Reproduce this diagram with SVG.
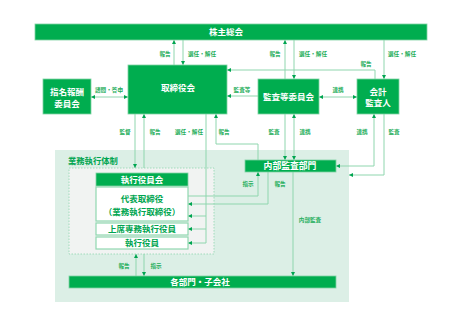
<svg xmlns="http://www.w3.org/2000/svg" width="456" height="325" viewBox="0 0 456 325">
<style>
.box{fill:#00ad4f;stroke:#7fd3a4;stroke-width:0.8}
.wbox{fill:#ffffff;stroke:#8fd8b0;stroke-width:1.2}
.t{font-family:"Noto Sans CJK JP","Noto Sans",sans-serif;font-weight:700;fill:#ffffff;font-size:8.5px;text-anchor:middle}
.g{fill:#00a550}
.lbl{font-family:"Noto Sans CJK JP","Noto Sans",sans-serif;font-weight:700;fill:#1fae5c;font-size:5.6px;text-anchor:middle}
.c{fill:none;stroke:#8fd6ae;stroke-width:1}
.a{marker-end:url(#ah)}
.d{marker-start:url(#ah);marker-end:url(#ah)}
</style>
<defs>
<marker id="ah" markerUnits="userSpaceOnUse" markerWidth="4" markerHeight="4" refX="4" refY="2" orient="auto-start-reverse">
<path d="M0,0 L4,2 L0,4 z" fill="#00a550"/>
</marker>
</defs>
<rect x="0" y="0" width="456" height="325" fill="#ffffff"/>
<g id="region">
<rect x="55" y="150" width="294" height="152" fill="#dcefe6"/>
<text class="lbl" x="68" y="164" style="font-size:8.3px;text-anchor:start;fill:#00a550">業務執行体制</text>
</g>
<g id="exec-frame">
<rect x="69" y="168" width="145" height="86" fill="#f1f3f2" stroke="#8fd6ae" stroke-width="0.8" stroke-dasharray="1.5,1.5"/>
</g>
<g id="connectors">
<path class="c a" d="M174,65 V40"/>
<path class="c a" d="M183,40 V65"/>
<path class="c d" d="M91,97 H128"/>
<path class="c a" d="M285,79 V40"/>
<path class="c a" d="M294,40 V79"/>
<path class="c a" d="M258,96 H227"/>
<path class="c d" d="M319,97 H357"/>
<path class="c a" d="M384,40 V79"/>
<path class="c a" d="M375,79 V70 H227"/>
<path class="c a" d="M135,114 V168"/>
<path class="c a" d="M144,168 V114"/>
<path class="c a" d="M206,114 V243 H188"/>
<path class="c a" d="M206,216 H188"/>
<path class="c a" d="M206,229 H188"/>
<path class="c a" d="M258,160 V144 H216 V114"/>
<path class="c a" d="M285,114 V160"/>
<path class="c d" d="M294,114 V160"/>
<path class="c d" d="M374,114 V166 H336"/>
<path class="c a" d="M384,114 V175 H349"/>
<path class="c a" d="M188,196 H258 V172"/>
<path class="c a" d="M268,172 V204 H188"/>
<path class="c a" d="M136,276 V254"/>
<path class="c a" d="M144,254 V276"/>
<path class="c a" d="M293,172 V276"/>
<text class="lbl" x="165" y="56">報告</text>
<text class="lbl" x="202" y="56">選任・解任</text>
<text class="lbl" x="109" y="92">諮問・答申</text>
<text class="lbl" x="275" y="56">報告</text>
<text class="lbl" x="313" y="56">選任・解任</text>
<text class="lbl" x="402" y="56">選任・解任</text>
<text class="lbl" x="366" y="66">報告</text>
<text class="lbl" x="242" y="92">監査等</text>
<text class="lbl" x="338" y="92">連携</text>
<text class="lbl" x="125" y="134">監督</text>
<text class="lbl" x="155" y="134">報告</text>
<text class="lbl" x="189" y="134">選任・解任</text>
<text class="lbl" x="224" y="134">報告</text>
<text class="lbl" x="274" y="134">監査</text>
<text class="lbl" x="305" y="134">連携</text>
<text class="lbl" x="362" y="134">連携</text>
<text class="lbl" x="394" y="134">監査</text>
<text class="lbl" x="248" y="186">指示</text>
<text class="lbl" x="280" y="186">報告</text>
<text class="lbl" x="310" y="222">内部監査</text>
<text class="lbl" x="124" y="268">報告</text>
<text class="lbl" x="156" y="268">指示</text>
</g>
<g id="shareholders">
<rect class="box" x="35" y="24" width="392" height="16"/>
<text class="t" x="226" y="35">株主総会</text>
</g>
<g id="board">
<rect class="box" x="128" y="65" width="99" height="49"/>
<text class="t" x="178" y="91">取締役会</text>
</g>
<g id="nomination">
<rect class="box" x="43" y="79" width="48" height="35"/>
<text class="t" x="67" y="95">指名報酬</text>
<text class="t" x="67" y="107">委員会</text>
</g>
<g id="audit-committee">
<rect class="box" x="258" y="79" width="61" height="35"/>
<text class="t" x="288.5" y="100">監査等委員会</text>
</g>
<g id="accounting-auditor">
<rect class="box" x="357" y="79" width="42" height="35"/>
<text class="t" x="378" y="95">会計</text>
<text class="t" x="378" y="106">監査人</text>
</g>
<g id="internal-audit">
<rect class="box" x="245" y="160" width="91" height="12"/>
<text class="t" x="290" y="169.3" style="font-size:8.8px">内部監査部門</text>
</g>
<g id="exec-committee">
<rect class="box" x="96" y="173" width="92" height="13"/>
<text class="t" x="142" y="182.5">執行役員会</text>
</g>
<g id="representative">
<rect class="wbox" x="96" y="187" width="92" height="34"/>
<text class="t g" x="142" y="202">代表取締役</text>
<text class="t g" x="142" y="215">（業務執行取締役）</text>
</g>
<g id="senior-officers">
<rect class="wbox" x="96" y="223" width="92" height="12"/>
<text class="t g" x="142" y="232">上席専務執行役員</text>
</g>
<g id="officers">
<rect class="wbox" x="96" y="237" width="92" height="12"/>
<text class="t g" x="142" y="246">執行役員</text>
</g>
<g id="departments">
<rect class="box" x="69" y="276" width="267" height="12"/>
<text class="t" x="200" y="285">各部門・子会社</text>
</g>
</svg>
